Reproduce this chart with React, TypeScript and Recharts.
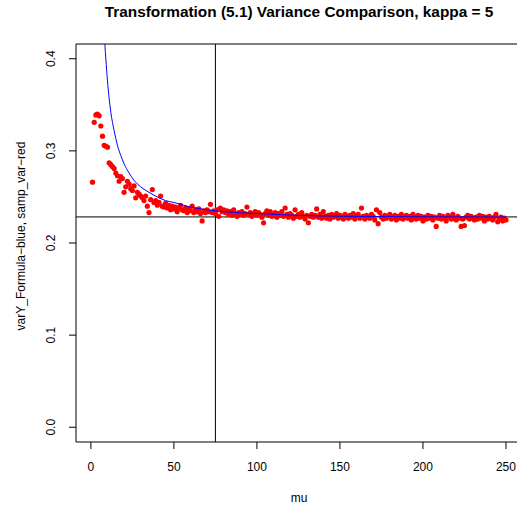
import { ScatterChart, Scatter, XAxis, YAxis, ReferenceLine, ReferenceArea } from "recharts";

// sample variance (red points), mu = 1..250
const sampVar = [
  0.266, 0.331, 0.339, 0.340, 0.338, 0.327, 0.316, 0.306, 0.305, 0.304,
  0.287, 0.285, 0.283, 0.281, 0.276, 0.273, 0.267, 0.272, 0.270, 0.255,
  0.261, 0.267, 0.264, 0.259, 0.257, 0.262, 0.249, 0.255, 0.253, 0.251,
  0.249, 0.246, 0.251, 0.240, 0.233, 0.247, 0.258, 0.244, 0.246, 0.241,
  0.244, 0.251, 0.240, 0.239, 0.243, 0.238, 0.241, 0.236, 0.240, 0.237,
  0.239, 0.234, 0.238, 0.241, 0.236, 0.235, 0.238, 0.233, 0.237, 0.235,
  0.240, 0.233, 0.236, 0.234, 0.237, 0.232, 0.224, 0.235, 0.233, 0.236,
  0.234, 0.242, 0.233, 0.235, 0.232, 0.236, 0.229, 0.238, 0.234, 0.236,
  0.233, 0.235, 0.231, 0.234, 0.230, 0.236, 0.232, 0.229, 0.233, 0.231,
  0.234, 0.230, 0.232, 0.239, 0.231, 0.233, 0.229, 0.232, 0.234, 0.230,
  0.233, 0.231, 0.228, 0.222, 0.232, 0.235, 0.230, 0.234, 0.229, 0.231,
  0.233, 0.228, 0.232, 0.230, 0.234, 0.229, 0.238, 0.231, 0.228, 0.232,
  0.230, 0.227, 0.236, 0.229, 0.231, 0.228, 0.233, 0.229, 0.226, 0.230,
  0.222, 0.229, 0.231, 0.228, 0.230, 0.237, 0.228, 0.231, 0.227, 0.234,
  0.229, 0.227, 0.230, 0.226, 0.231, 0.228, 0.229, 0.232, 0.227, 0.230,
  0.228, 0.226, 0.231, 0.229, 0.227, 0.230, 0.228, 0.232, 0.226, 0.229,
  0.231, 0.227, 0.238, 0.229, 0.226, 0.230, 0.228, 0.227, 0.231, 0.229,
  0.225, 0.236, 0.221, 0.233, 0.228, 0.226, 0.230, 0.227, 0.229, 0.231,
  0.226, 0.228, 0.230, 0.225, 0.229, 0.227, 0.231, 0.226, 0.228, 0.230,
  0.227, 0.229, 0.225, 0.231, 0.228, 0.226, 0.230, 0.227, 0.229, 0.224,
  0.228, 0.226, 0.230, 0.227, 0.229, 0.225, 0.228, 0.218, 0.227, 0.230,
  0.226, 0.229, 0.227, 0.224, 0.230, 0.228, 0.226, 0.231, 0.227, 0.225,
  0.229, 0.227, 0.218, 0.226, 0.219, 0.228, 0.230, 0.226, 0.229, 0.227,
  0.225, 0.228, 0.226, 0.230, 0.227, 0.229, 0.224, 0.228, 0.226, 0.229,
  0.227, 0.225, 0.228, 0.231, 0.223, 0.226, 0.228, 0.224, 0.227, 0.225,
];

// formula variance (blue curve), read at these mu values
const formulaMu = [7, 8, 9, 10, 11, 12, 13, 14, 16, 18, 20, 23, 26, 30, 35, 40, 45, 50, 60, 70, 80, 100, 125, 150, 200, 250];
const formulaVar = [
  0.462, 0.428, 0.4, 0.376, 0.357, 0.342, 0.331, 0.322, 0.306, 0.295, 0.286, 0.276, 0.268,
  0.261, 0.255, 0.25, 0.246, 0.244, 0.239, 0.236, 0.234, 0.232, 0.23, 0.229, 0.2285, 0.2282,
];

const xTicks = [0, 50, 100, 150, 200, 250];
const yTicks = [0, 0.1, 0.2, 0.3, 0.4];
const hLine = 0.2283;
const vLine = 75;

const xDomain = [-8.96, 259.96];
const yDomain = [-0.016, 0.416];

const font = "'Liberation Sans', Arial, Helvetica, sans-serif";

const redPoints = sampVar.map((v, i) => ({ mu: i + 1, v }));
const bluePoints = formulaMu.map((mu, i) => ({ mu, v: formulaVar[i] }));

const Dot = (props: any) => <circle cx={props.cx} cy={props.cy} r={2.6} fill="#ff0000" />;

const XTick = (props: any) => (
  <text x={props.x} y={471} textAnchor="middle" fontSize={12} fontFamily={font} fill="#000">
    {props.payload.value}
  </text>
);

const YTick = (props: any) => (
  <text
    x={51}
    y={props.y}
    transform={`rotate(-90 51 ${props.y})`}
    textAnchor="middle"
    dominantBaseline="central"
    fontSize={12}
    fontFamily={font}
    fill="#000"
  >
    {Number(props.payload.value).toFixed(1)}
  </text>
);

export default function App() {
  return (
    <div style={{ position: "absolute", left: 0, top: 0, width: 517, height: 508, overflow: "hidden", background: "#fff" }}>
      <ScatterChart width={540} height={508} margin={{ top: 44, right: 17.5, bottom: 36, left: 46 }}>
        <XAxis
          type="number"
          dataKey="mu"
          domain={xDomain}
          ticks={xTicks}
          allowDataOverflow
          axisLine={false}
          tickLine={{ stroke: "#000" }}
          tickSize={7}
          height={30}
          tick={XTick}
          interval={0}
        />
        <YAxis
          type="number"
          dataKey="v"
          domain={yDomain}
          ticks={yTicks}
          allowDataOverflow
          axisLine={false}
          tickLine={{ stroke: "#000" }}
          tickSize={7}
          width={30}
          tick={YTick}
          interval={0}
        />
        <ReferenceArea x1={xDomain[0]} x2={xDomain[1]} y1={yDomain[0]} y2={yDomain[1]} fill="none" stroke="#000" strokeWidth={1} />
        <Scatter data={redPoints} shape={Dot} isAnimationActive={false} />
        <Scatter
          data={bluePoints}
          line={{ stroke: "#0000ff", strokeWidth: 1 }}
          lineJointType="monotoneX"
          shape={() => null}
          isAnimationActive={false}
        />
        <ReferenceLine y={hLine} stroke="#000" strokeWidth={1} />
        <ReferenceLine x={vLine} stroke="#000" strokeWidth={1} />
      </ScatterChart>
      <svg width={517} height={508} style={{ position: "absolute", left: 0, top: 0, pointerEvents: "none" }}>
        <text x={299} y={17} textAnchor="middle" fontSize={15.4} fontWeight="bold" fontFamily={font} fill="#000">
          Transformation (5.1) Variance Comparison, kappa = 5
        </text>
        <text x={299} y={502} textAnchor="middle" fontSize={12} fontFamily={font} fill="#000">
          mu
        </text>
        <text
          x={21}
          y={236}
          transform="rotate(-90 21 236)"
          textAnchor="middle"
          dominantBaseline="central"
          fontSize={12}
          fontFamily={font}
          fill="#000"
        >
          varY_Formula−blue, samp_var−red
        </text>
      </svg>
    </div>
  );
}
